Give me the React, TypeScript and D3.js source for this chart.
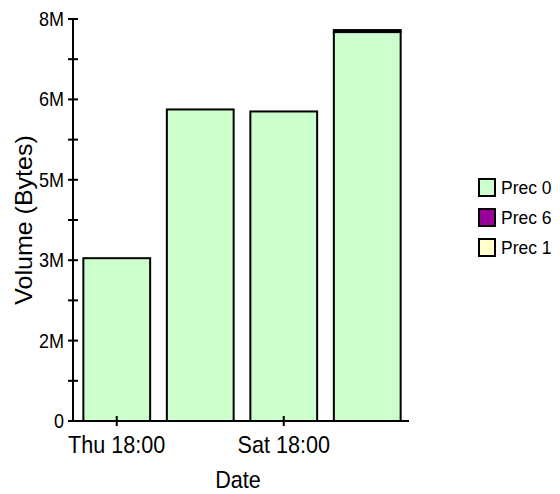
import React from "react";
import * as d3 from "d3";

const categories = ["Thu 18:00", "Fri 18:00", "Sat 18:00", "Sun 18:00"];
const tickLabels = ["Thu 18:00", "Sat 18:00"];
const seriesNames = ["Prec 0", "Prec 6", "Prec 1"];
const seriesColors = ["#ccffcc", "#990099", "#ffffcc"];
const prec0 = [3.24e6, 6.2e6, 6.16e6, 7.74e6];
const prec6 = [0, 0, 0, 0.04e6];
const prec1 = [0, 0, 0, 0];
const yTicks = [0, 0.8e6, 1.6e6, 2.4e6, 3.2e6, 4.0e6, 4.8e6, 5.6e6, 6.4e6, 7.2e6, 8e6];
const yLabelTicks = [0, 1.6e6, 3.2e6, 4.8e6, 6.4e6, 8e6];

const FONT = "'Liberation Sans', Arial, sans-serif";

export default function App() {
  const W = 560, H = 494;
  const left = 73, right = 409, top = 19, bottom = 421;
  const x = d3.scaleBand<string>().domain(categories).range([75, right]).paddingInner(0.2).paddingOuter(0.1);
  const y = d3.scaleLinear().domain([0, 8e6]).range([bottom, top]);
  const stack = d3.stack<any>().keys(seriesNames)(
    categories.map((c, i) => ({ cat: c, "Prec 0": prec0[i], "Prec 6": prec6[i], "Prec 1": prec1[i] }))
  );
  const fmt = (v: number) => (v === 0 ? "0" : Math.round(v / 1e6) + "M");

  return (
    <svg width={W} height={H} style={{ position: "absolute", left: 0, top: 0, background: "#fff" }} fontFamily={FONT}>
      {stack.map((layer, si) =>
        layer.map((d, i) => {
          const h = y(d[0]) - y(d[1]);
          if (h <= 0) return null;
          return (
            <rect key={si + "-" + i} x={x(categories[i])!} y={y(d[1])} width={x.bandwidth()} height={h}
              fill={seriesColors[si]} stroke="#000" strokeWidth={2} />
          );
        })
      )}
      {/* y axis */}
      <line x1={left} x2={left} y1={top} y2={bottom} stroke="#000" strokeWidth={2} />
      {yTicks.map((t) => (
        <line key={t} x1={left - 5} x2={left + 5} y1={y(t)} y2={y(t)} stroke="#000" strokeWidth={2} />
      ))}
      {yLabelTicks.map((t) => (
        <text key={t} transform={`translate(64,${y(t) + 7}) scale(0.9,1)`} textAnchor="end" fontSize={20} fill="#000">
          {fmt(t)}
        </text>
      ))}
      {/* x axis */}
      <line x1={left - 5} x2={right} y1={bottom} y2={bottom} stroke="#000" strokeWidth={2} />
      {tickLabels.map((c) => {
        const cx = x(c)! + x.bandwidth() / 2;
        return (
          <g key={c}>
            <line x1={cx} x2={cx} y1={bottom - 5} y2={bottom + 5} stroke="#000" strokeWidth={2} />
            <text transform={`translate(${cx},453) scale(0.9,1)`} textAnchor="middle" fontSize={24} fill="#000">{c}</text>
          </g>
        );
      })}
      <text transform={`translate(238,488) scale(0.9,1)`} textAnchor="middle" fontSize={24} fill="#000">Date</text>
      <text transform={`translate(32,220) rotate(-90) scale(1,0.92)`} textAnchor="middle" fontSize={25} fill="#000">Volume (Bytes)</text>
      {/* legend */}
      {seriesNames.map((s, i) => (
        <g key={s}>
          <rect x={479} y={179 + i * 30} width={16} height={17} fill={seriesColors[i]} stroke="#000" strokeWidth={2} />
          <text x={501} y={194 + i * 30} fontSize={17.5} fill="#000">{s}</text>
        </g>
      ))}
    </svg>
  );
}
